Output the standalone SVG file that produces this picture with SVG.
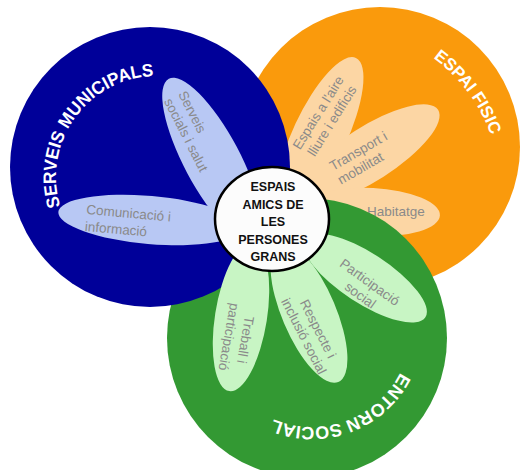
<svg xmlns="http://www.w3.org/2000/svg" width="523" height="470" viewBox="0 0 523 470">
<style>
.pb{fill:#b8c8f4}
.po{fill:#fcd6a4}
.pg{fill:#c8f5c4}
.pt{font-family:"Liberation Sans",Arial,sans-serif;font-size:13.5px;fill:#8a8a8a}
.ttl{font-family:"Liberation Sans",Arial,sans-serif;font-weight:bold;fill:#ffffff}
.ct{font-family:"Liberation Sans",Arial,sans-serif;font-weight:bold;font-size:12.5px;fill:#111;text-anchor:middle}
</style>
<defs>
<path id="arcB" d="M84.9,247.75 A101,101 0 0 1 200.6,85.9"/>
<path id="arcO" d="M319.1,28.1 A162,162 0 0 1 486.8,253.1"/>
<path id="arcG" d="M409.4,310.5 A99,99 0 0 1 226.4,377.8"/>
</defs>
<g id="espai-fisic">
<circle cx="380" cy="147" r="140" fill="#fa9a0c"/>
<ellipse class="po" cx="320" cy="135" rx="85" ry="27" transform="rotate(-65 320 135)"/>
<ellipse class="po" cx="369" cy="154" rx="82" ry="27" transform="rotate(-32.6 369 154)"/>
<ellipse class="po" cx="372" cy="212" rx="68" ry="24" transform="rotate(3 372 212)"/>
<text class="ttl" font-size="17"><textPath href="#arcO" startOffset="50%" text-anchor="middle">ESPAI FISIC</textPath></text>
<g transform="translate(300,150.5) rotate(-58)" class="pt"><text x="0" y="0">Espais a l'aire</text><text x="2" y="16">lliure i edificis</text></g>
<g transform="translate(333,171) rotate(-30)" class="pt"><text x="0" y="0">Transport i</text><text x="0" y="16">mobilitat</text></g>
<text class="pt" x="367" y="215.5">Habitatge</text>
</g>
<g id="entorn-social">
<circle cx="307" cy="338" r="140" fill="#339933"/>
</g>
<g id="serveis-municipals">
<circle cx="150" cy="167" r="140" fill="#000099"/>
<ellipse class="pb" cx="212" cy="160" rx="92" ry="28" transform="rotate(62 212 160)"/>
<ellipse class="pb" cx="150" cy="220" rx="92" ry="24" transform="rotate(5 150 220)"/>
<text class="ttl" font-size="18"><textPath href="#arcB" startOffset="50%" text-anchor="middle" textLength="185" lengthAdjust="spacingAndGlyphs">SERVEIS MUNICIPALS</textPath></text>
<g transform="translate(178,94) rotate(63)" class="pt"><text x="0" y="0">Serveis</text><text x="0" y="16">socials i salut</text></g>
<g transform="translate(86,214) rotate(5)" class="pt"><text x="0" y="0">Comunicació i</text><text x="0" y="17">informació</text></g>
</g>
<g id="entorn-social-petals">
<ellipse class="pg" cx="365" cy="278" rx="72" ry="25" transform="rotate(33 365 278)"/>
<ellipse class="pg" cx="309" cy="313" rx="75" ry="27" transform="rotate(67 309 313)"/>
<ellipse class="pg" cx="241" cy="317" rx="75" ry="26" transform="rotate(99 241 317)"/>
<text class="ttl" font-size="18"><textPath href="#arcG" startOffset="50%" text-anchor="middle">ENTORN SOCIAL</textPath></text>
<g transform="translate(367,286) rotate(36)" class="pt" text-anchor="middle"><text x="0" y="0">Participació</text><text x="0" y="16">social</text></g>
<g transform="translate(314,331) rotate(63)" class="pt" text-anchor="middle"><text x="0" y="0">Respecte i</text><text x="0" y="16">inclusió social</text></g>
<g transform="translate(241,339) rotate(100)" class="pt" text-anchor="middle"><text x="0" y="0">Treball i</text><text x="0" y="17">participació</text></g>
</g>
<g id="centre">
<ellipse cx="272" cy="219" rx="57" ry="52" fill="#fcfcfc" stroke="#000" stroke-width="2.5"/>
<text class="ct" x="273" y="191">ESPAIS</text>
<text class="ct" x="273" y="208.5">AMICS DE</text>
<text class="ct" x="273" y="226">LES</text>
<text class="ct" x="273" y="243.5">PERSONES</text>
<text class="ct" x="273" y="261">GRANS</text>
</g>
<g id="connectors"/>
</svg>
